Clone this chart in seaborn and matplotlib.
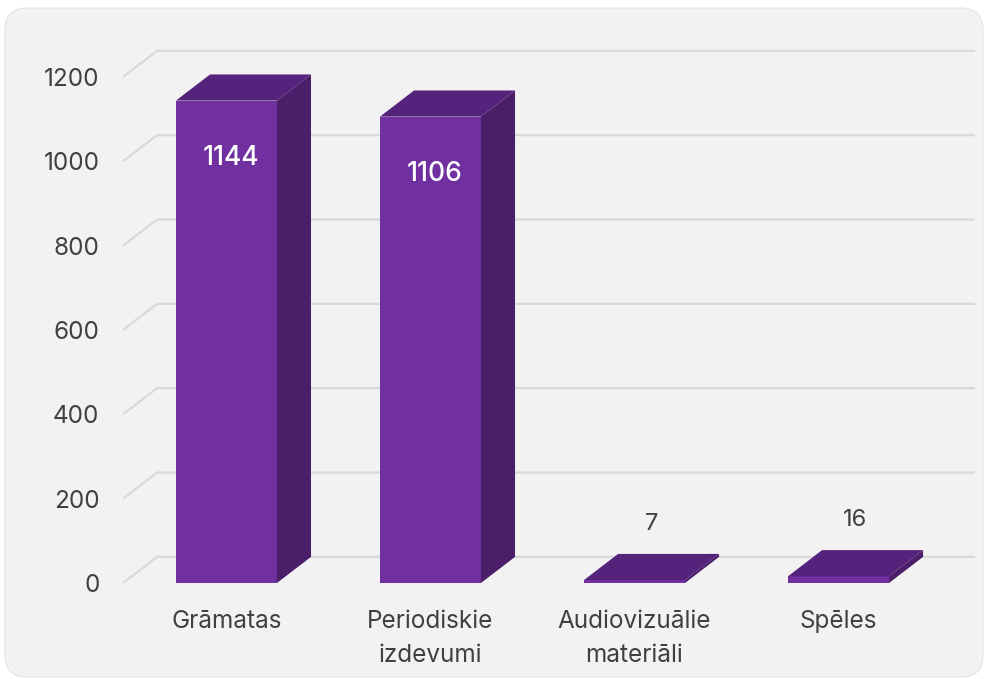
import matplotlib
matplotlib.use("Agg")
import matplotlib.pyplot as plt
from matplotlib.patches import Polygon, FancyBboxPatch
import seaborn as sns
import pandas as pd

# data
categories = ["Grāmatas", "Periodiskie\nizdevumi", "Audiovizuālie\nmateriāli", "Spēles"]
values = [1144, 1106, 7, 16]
y_ticks = [0, 200, 400, 600, 800, 1000, 1200]

# colours
front_col = "#7030a0"
top_col = "#55237c"
side_col = "#4a1e68"
grid_col = "#d9d9d9"
text_col = "#404040"

sns.set_theme(style="white")
plt.rcParams['font.family'] = ['Inter', 'DejaVu Sans']

fig = plt.figure(figsize=(9.85, 6.79), dpi=100, facecolor="white")

# light grey rounded panel behind the chart
panel = FancyBboxPatch((0.05, 0.02), 9.78, 6.69,
                       boxstyle="round,pad=0,rounding_size=0.22",
                       transform=fig.dpi_scale_trans,
                       facecolor="#f2f2f2", edgecolor="#e4e4e4", lw=0.8, zorder=-10)
fig.patches.append(panel)

# axes placed in pixel terms (123..975 wide, 40..600 high)
ax = fig.add_axes([123 / 985, (679 - 600) / 679, 852 / 985, 560 / 679])
ax.set_facecolor("none")
ax.set_zorder(5)

x_lo, x_hi = -0.507, 3.669
y_lo, y_hi = -40.3, 1287.7

# depth of the 3d effect in data units
dx = 0.167
dy = 62

# back wall gridlines + left diagonal
for v in y_ticks:
    ax.plot([x_lo, x_lo + dx, x_hi], [v, v + dy, v + dy],
            color=grid_col, lw=1.6, zorder=1, solid_capstyle="butt")

df = pd.DataFrame({"cat": categories, "val": values})
sns.barplot(data=df, x="cat", y="val", color=front_col, saturation=1,
            width=0.495, ax=ax, zorder=3, linewidth=0, edgecolor=front_col)

for p, v in zip(ax.patches, values):
    x0 = p.get_x()
    w = p.get_width()
    h = p.get_height()
    top = Polygon([(x0, h), (x0 + w, h), (x0 + w + dx, h + dy), (x0 + dx, h + dy)],
                  closed=True, facecolor=top_col, edgecolor="none", zorder=3)
    side = Polygon([(x0 + w, 0), (x0 + w + dx, dy), (x0 + w + dx, h + dy), (x0 + w, h)],
                   closed=True, facecolor=side_col, edgecolor="none", zorder=3)
    ax.add_patch(top)
    ax.add_patch(side)
    if v > 200:
        ax.text(x0 + w / 2 + 0.02, h - 135, str(v), ha="center", va="center",
                color="white", fontsize=19, fontweight="medium", zorder=5)
    else:
        ax.text(x0 + w / 2 + dx / 2, h + dy + 72, str(v), ha="center", va="center",
                color=text_col, fontsize=17, zorder=5)

ax.set_xlim(x_lo, x_hi)
ax.set_ylim(y_lo, y_hi)
ax.set_yticks(y_ticks)
ax.set_yticklabels([str(t) for t in y_ticks], fontsize=17.5, color=text_col)
ax.tick_params(axis="y", length=0, pad=17)
ax.tick_params(axis="x", length=0, pad=7, labelsize=17.5, labelcolor=text_col)
for lbl in ax.get_xticklabels():
    lbl.set_linespacing(1.6)
ax.set_xlabel("")
ax.set_ylabel("")
for s in ax.spines.values():
    s.set_visible(False)

fig.savefig("out.png", dpi=100, facecolor="white")
